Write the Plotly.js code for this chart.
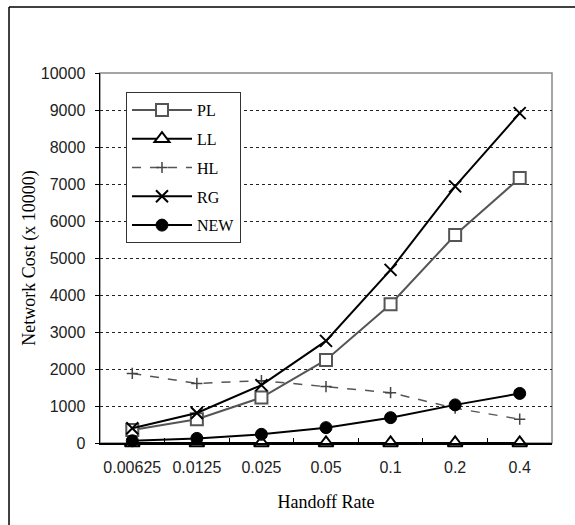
<!DOCTYPE html>
<html>
<head>
<meta charset="utf-8">
<script src="https://cdn.plot.ly/plotly-3.0.1.min.js"></script>
<style>html,body{margin:0;padding:0;background:#fff;}#chart{width:575px;height:525px;}</style>
</head>
<body>
<div id="chart"></div>
<script>
const categories = ["0.00625", "0.0125", "0.025", "0.05", "0.1", "0.2", "0.4"];
const seriesNames = ["PL", "LL", "HL", "RG", "NEW"];
const valuesPL  = [350, 640, 1230, 2245, 3750, 5620, 7160];
const valuesLL  = [0, 0, 0, 0, 0, 0, 0];
const valuesHL  = [1880, 1610, 1685, 1525, 1360, 940, 645];
const valuesRG  = [400, 810, 1565, 2760, 4680, 6935, 8915];
const valuesNEW = [60, 125, 235, 415, 685, 1030, 1340];
const yTicks = [0, 1000, 2000, 3000, 4000, 5000, 6000, 7000, 8000, 9000, 10000];
const yTickLabels = ["0", "1000", "2000", "3000", "4000", "5000", "6000", "7000", "8000", "9000", "10000"];

const serif = "Liberation Serif, Times New Roman, serif";
const sans = "Liberation Sans, Arial, sans-serif";

const traces = [
  {name: seriesNames[0], y: valuesPL, line: {color: "#555", width: 2, dash: "solid"},
   marker: {symbol: "square", size: 12, color: "#fff", line: {color: "#555", width: 2}}},
  {name: seriesNames[1], y: valuesLL, line: {color: "#000", width: 2, dash: "solid"},
   marker: {symbol: "triangle-up", size: 13, color: "#fff", line: {color: "#000", width: 2}}},
  {name: seriesNames[2], y: valuesHL, line: {color: "#555", width: 1.5, dash: "dash"},
   marker: {symbol: "cross-thin-open", size: 8, color: "#444", line: {color: "#444", width: 1.5}}},
  {name: seriesNames[3], y: valuesRG, line: {color: "#000", width: 2, dash: "solid"},
   marker: {symbol: "x-thin-open", size: 12, color: "#000", line: {color: "#000", width: 2}}},
  {name: seriesNames[4], y: valuesNEW, line: {color: "#000", width: 2, dash: "solid"},
   marker: {symbol: "circle", size: 12, color: "#000", line: {color: "#000", width: 1}}}
].map((t, i) => Object.assign({
  type: "scatter", mode: "lines+markers", x: categories, cliponaxis: false,
  legendgroup: "g" + i
}, t));

const layout = {
  width: 575, height: 525,
  margin: {l: 100, r: 23, t: 73, b: 82},
  paper_bgcolor: "#fff", plot_bgcolor: "#fff",
  showlegend: true,
  legend: {
    x: 0.0575, y: 0.9486, xanchor: "left", yanchor: "top",
    bgcolor: "#fff", bordercolor: "#333", borderwidth: 1,
    font: {family: serif, size: 16, color: "#000"},
    itemwidth: 60, tracegroupgap: 5, traceorder: "grouped"
  },
  xaxis: {
    type: "category", range: [-0.5, 6.5], fixedrange: true,
    showline: true, linecolor: "#000", linewidth: 1.5,
    ticks: "inside", tickson: "boundaries", ticklen: 5, tickcolor: "#000",
    showgrid: false, zeroline: false, tickangle: 0,
    tickfont: {family: sans, size: 16, color: "#222"},
    ticklabelstandoff: 9,
    title: {text: "Handoff Rate", font: {family: serif, size: 18, color: "#000"}, standoff: 20}
  },
  yaxis: {
    range: [0, 10000], tickvals: yTicks, ticktext: yTickLabels, fixedrange: true,
    showline: true, linecolor: "#000", linewidth: 1.5,
    ticks: "outside", ticklen: 4, tickcolor: "#000",
    showgrid: true, gridcolor: "#222", griddash: "dot", gridwidth: 1,
    zeroline: false,
    tickfont: {family: sans, size: 16, color: "#222"},
    ticklabelstandoff: 6,
    title: {text: "Network Cost (x 10000)", font: {family: serif, size: 18, color: "#000"}, standoff: 0}
  },
  shapes: [
    {type: "rect", xref: "paper", yref: "paper", x0: 0, x1: 1, y0: 0, y1: 1,
     line: {color: "#888", width: 1.5}, layer: "below"},
    {type: "line", xref: "paper", yref: "paper", x0: -0.2013, x1: 1.06, y0: 1.1784, y1: 1.1784,
     line: {color: "#000", width: 1.5}},
    {type: "line", xref: "paper", yref: "paper", x0: -0.2013, x1: -0.2013, y0: 1.1784, y1: -0.3,
     line: {color: "#000", width: 1.5}}
  ]
};

Plotly.newPlot("chart", traces, layout, {displayModeBar: false, staticPlot: true});
</script>
</body>
</html>
